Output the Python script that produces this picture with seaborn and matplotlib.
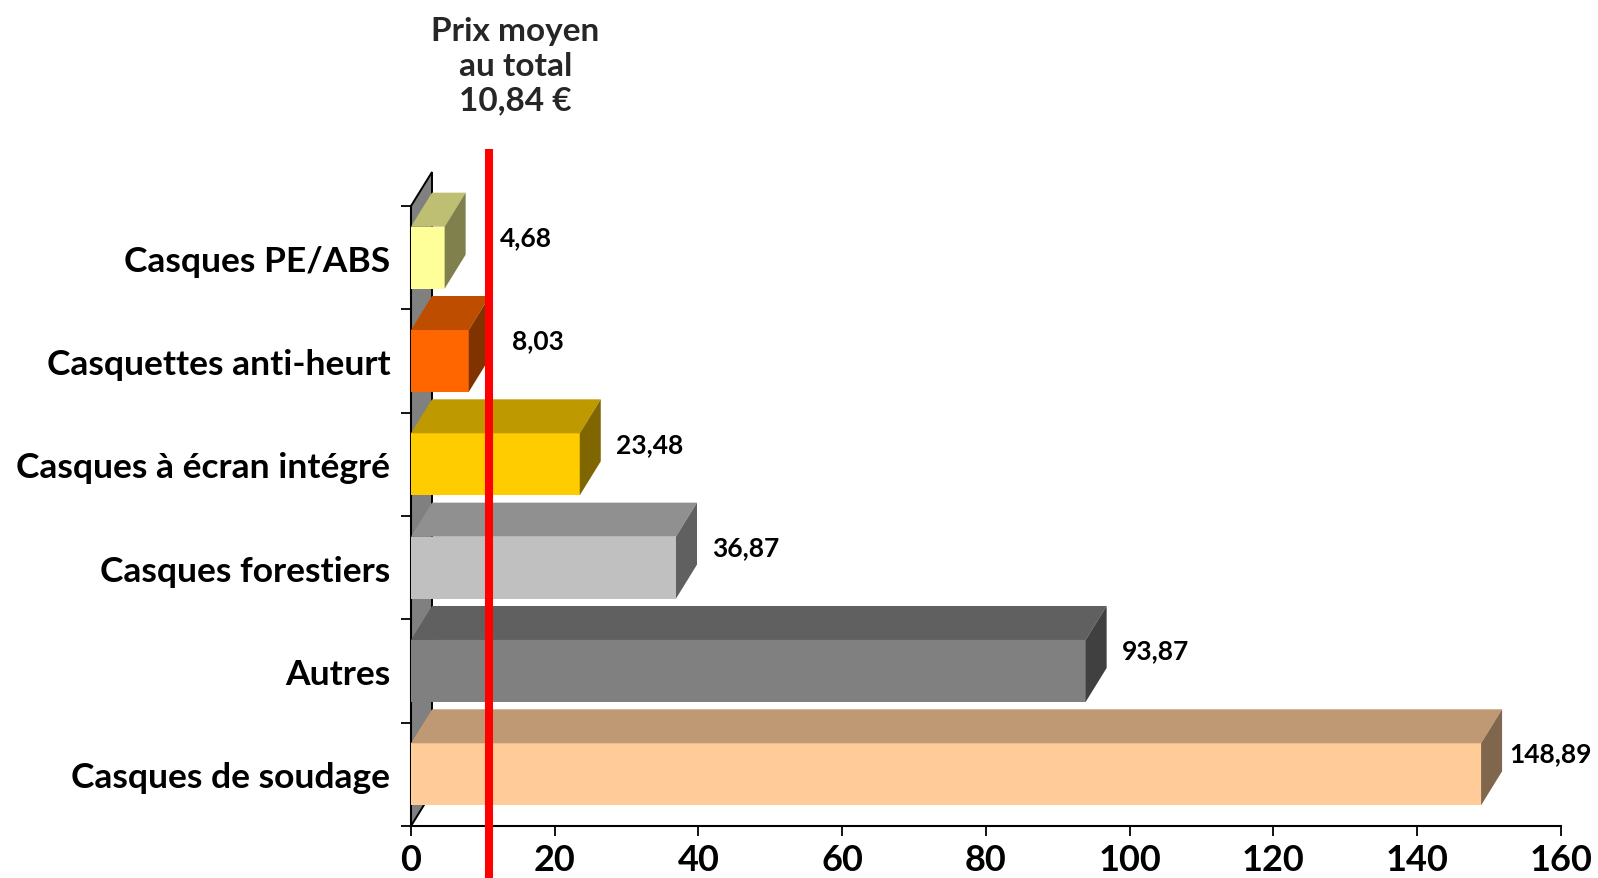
import matplotlib
matplotlib.use("Agg")
import matplotlib.pyplot as plt
import matplotlib.transforms as mtransforms
from matplotlib.patches import Polygon
import seaborn as sns
import numpy as np

# Average price per helmet family (EUR), listed top to bottom
categories = ["Casques PE/ABS", "Casquettes anti-heurt", "Casques à écran intégré",
              "Casques forestiers", "Autres", "Casques de soudage"]
prices = [4.68, 8.03, 23.48, 36.87, 93.87, 148.89]
mean_price = 10.84
x_ticks = [0, 20, 40, 60, 80, 100, 120, 140, 160]

front_colors = ["#FFFF99", "#FF6600", "#FFCC00", "#C0C0C0", "#808080", "#FFCC99"]

sns.set_theme(style="white")
plt.rcParams["font.family"] = ["Lato", "DejaVu Sans"]
plt.rcParams["font.weight"] = "bold"

W, H, DPI = 1598, 879, 100
fig = plt.figure(figsize=(W / DPI, H / DPI), dpi=DPI)
ax_left, ax_right, ax_bottom, ax_top = 0.2572, 0.9768, 0.0592, 0.7645
ax = fig.add_axes([ax_left, ax_bottom, ax_right - ax_left, ax_top - ax_bottom])

xmax = 160
ax_w_px = (ax_right - ax_left) * W
ax_h_px = (ax_top - ax_bottom) * H
# 3-D depth of the bars, in pixels, converted to data units
depth_px = (21, 34)
dx = depth_px[0] * xmax / ax_w_px
dy = depth_px[1] * len(categories) / ax_h_px
bar_h = 0.6


def shade(hex_color, f):
    r, g, b = matplotlib.colors.to_rgb(hex_color)
    return (r * f, g * f, b * f)


# front faces
sns.barplot(x=prices, y=categories, hue=categories, palette=front_colors,
            width=bar_h, saturation=1, legend=False, orient="h", ax=ax,
            edgecolor="none", zorder=3)

ax.set_xlim(0, xmax)
ax.set_ylim(len(categories) - 0.5, -0.5)

# back wall on the left
n = len(categories)
wall = Polygon([(0, n - 0.5), (0, -0.5), (dx, -0.5 - dy), (dx, n - 0.5 - dy)],
               closed=True, facecolor="#808080", edgecolor="black", lw=1.4,
               zorder=1, clip_on=False)
ax.add_patch(wall)

# top and side faces, plus value labels
value_labels = []
for i, (v, c) in enumerate(zip(prices, front_colors)):
    yt, yb = i - bar_h / 2, i + bar_h / 2
    top = Polygon([(0, yt), (v, yt), (v + dx, yt - dy), (dx, yt - dy)],
                  closed=True, facecolor=shade(c, 0.75), edgecolor="none",
                  zorder=3, clip_on=False)
    side = Polygon([(v, yt), (v, yb), (v + dx, yb - dy), (v + dx, yt - dy)],
                   closed=True, facecolor=shade(c, 0.5), edgecolor="none",
                   zorder=3, clip_on=False)
    ax.add_patch(top)
    ax.add_patch(side)
    label = f"{v:.2f}".replace(".", ",")
    t = ax.annotate(label, xy=(v + dx, i - 0.2), xytext=(35, 0),
                    textcoords="offset points", ha="center", va="center",
                    fontsize=19, fontweight="bold", color="black", zorder=4,
                    annotation_clip=False)
    value_labels.append(t)

# mean price line
trans = mtransforms.blended_transform_factory(ax.transData, ax.transAxes)
ax.plot([mean_price, mean_price], [-0.1, 1.092], transform=trans,
        color="#FF0000", lw=5.8, solid_capstyle="butt", clip_on=False, zorder=6)
mean_txt = f"Prix moyen\nau total\n{mean_price:.2f} €".replace(".", ",")
ax.annotate(mean_txt, xy=(mean_price, 1.0), xycoords=trans,
            xytext=(19, 66), textcoords="offset points",
            ha="center", va="bottom", fontsize=24, fontweight="bold",
            linespacing=1.24, annotation_clip=False)

# axes styling
for s in ["top", "right"]:
    ax.spines[s].set_visible(False)
for s in ["left", "bottom"]:
    ax.spines[s].set_color("black")
    ax.spines[s].set_linewidth(1.5)
    ax.spines[s].set_zorder(2)

ax.set_xticks(x_ticks)
ax.set_xticklabels([str(t) for t in x_ticks])
ax.tick_params(axis="x", direction="out", length=7.5, width=1.3, color="black",
               labelsize=26, pad=5, bottom=True)
ax.set_yticks(range(n))
ax.set_yticklabels(categories)
ax.set_yticks(np.arange(-0.5, n, 1.0), minor=True)
ax.tick_params(axis="y", which="major", length=0, labelsize=25.5, pad=15)
ax.tick_params(axis="y", which="minor", direction="out", length=7.5, width=1.3,
               color="black", left=True)
for lbl in ax.get_xticklabels() + ax.get_yticklabels():
    lbl.set_fontweight("bold")
    lbl.set_color("black")
ax.set_xlabel("")
ax.set_ylabel("")
ax.grid(False)

# keep value labels clear of the mean line
fig.canvas.draw()
renderer = fig.canvas.get_renderer()
mean_px = ax.transData.transform((mean_price, 0))[0]
clearance_px = 11
for t in value_labels:
    bb = t.get_window_extent(renderer)
    if bb.x0 < mean_px + clearance_px:
        shift_pt = (mean_px + clearance_px - bb.x0) * 72 / DPI
        ox, oy = t.xyann
        t.xyann = (ox + shift_pt, oy)

fig.savefig("out.png", dpi=DPI, facecolor="white")
